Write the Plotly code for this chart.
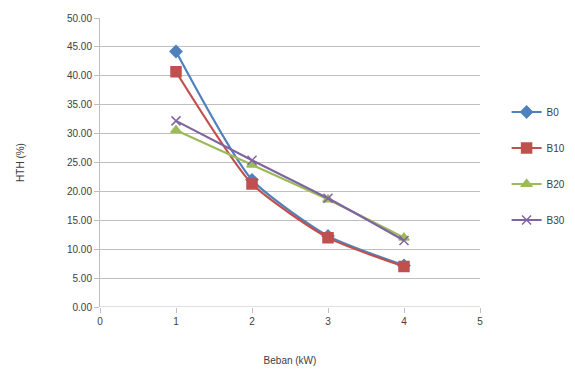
import plotly.graph_objects as go

beban = [1, 2, 3, 4]
series_names = ["B0", "B10", "B20", "B30"]
b0 = [44.2, 22.0, 12.3, 7.2]
b10 = [40.7, 21.3, 12.0, 7.0]
b20 = [30.6, 24.6, 18.6, 12.0]
b30 = [32.2, 25.4, 18.8, 11.5]
colors = ["#4F81BD", "#C0504D", "#9BBB59", "#8064A2"]
symbols = ["diamond", "square", "triangle-up", "x-thin-open"]
sizes = [9, 10, 9, 9]
values = [b0, b10, b20, b30]

fig = go.Figure()
for i, (name, vals) in enumerate(zip(series_names, values)):
    fig.add_trace(go.Scatter(
        x=beban, y=vals, name=name, mode="lines+markers",
        line=dict(color=colors[i], width=2.2, shape="spline", smoothing=0.6),
        marker=dict(symbol=symbols[i], size=sizes[i], color=colors[i],
                    line=dict(color=colors[i], width=1.5)),
        legendgroup=name,
    ))

fig.update_layout(
    width=575, height=379,
    margin=dict(l=100, r=95, t=18, b=72, autoexpand=False),
    paper_bgcolor="white", plot_bgcolor="white",
    font=dict(family="Liberation Sans", size=10, color="#404040"),
    showlegend=True,
    legend=dict(x=1.07, y=0.725, xanchor="left", yanchor="top",
                traceorder="grouped", tracegroupgap=17,
                font=dict(size=10, color="#404040"), itemwidth=30),
    xaxis=dict(range=[0, 5], dtick=1, tick0=0, showgrid=False,
               showline=False, zeroline=False,
               ticks="outside", ticklen=5, tickcolor="#BFBFBF",
               title=dict(text="Beban (kW)", standoff=30, font=dict(size=10)),
               fixedrange=True),
    yaxis=dict(range=[0, 50], dtick=5, tickformat=".2f", showgrid=True,
               gridcolor="#BFBFBF", gridwidth=1, showline=True,
               linecolor="#BFBFBF", zeroline=False,
               ticks="outside", ticklen=5, tickcolor="#BFBFBF",
               title=dict(text="HTH (%)", standoff=40, font=dict(size=10)),
               fixedrange=True),
)
fig.add_hline(y=0, line=dict(color="#BFBFBF", width=1))

fig.write_html("out.html")
